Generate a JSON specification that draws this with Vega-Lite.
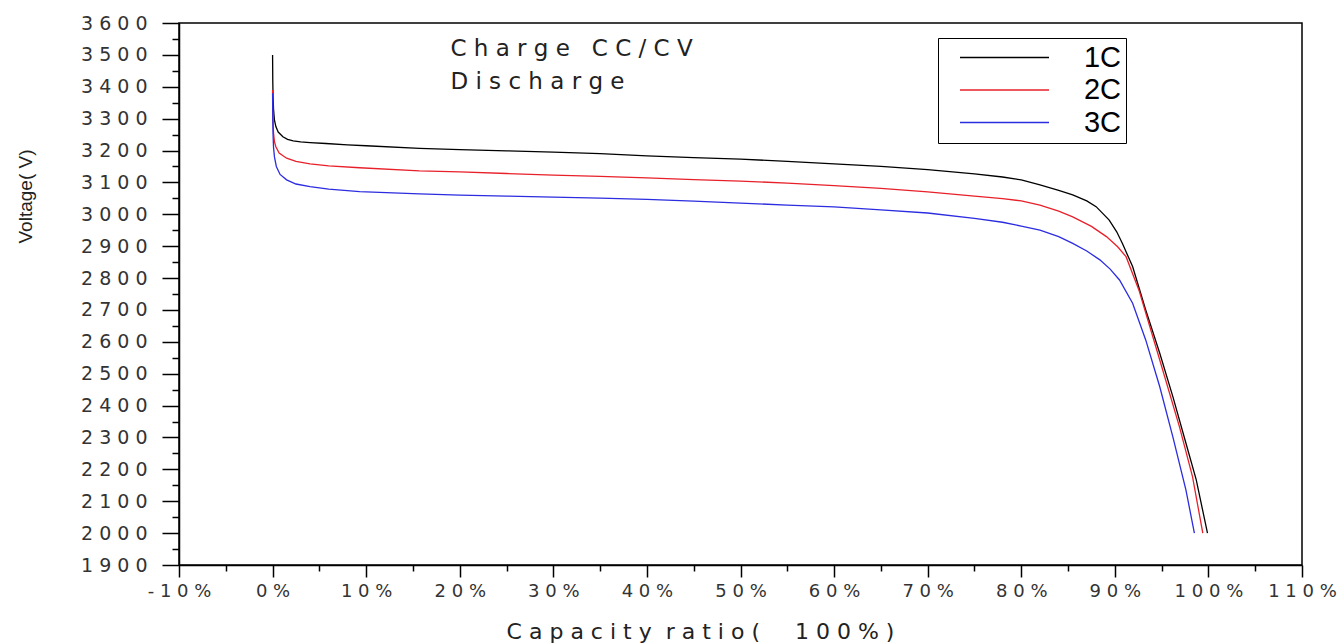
{
  "$schema": "https://vega.github.io/schema/vega-lite/v6.json",
  "width": 1123,
  "height": 542,
  "autosize": {"type": "none"},
  "padding": {"left": 179, "top": 23, "right": 35, "bottom": 79},
  "background": "white",
  "config": {
    "view": {"stroke": "black", "strokeWidth": 1.5},
    "axis": {
      "domainColor": "black", "domainWidth": 1.5,
      "tickColor": "black", "tickWidth": 1.5,
      "grid": false,
      "labelFont": "DejaVu Sans", "labelFontSize": 19, "labelColor": "#333333",
      "titleFont": "Liberation Sans", "titleFontWeight": "normal", "titleColor": "#222222"
    }
  },
  "resolve": {"axis": {"x": "independent", "y": "independent"}},
  "datasets": {
    "curves": [
      {"s": "1C", "x": 0, "v": 3500}, {"s": "1C", "x": 0.02, "v": 3420}, {"s": "1C", "x": 0.05, "v": 3370},
      {"s": "1C", "x": 0.1, "v": 3330}, {"s": "1C", "x": 0.2, "v": 3295}, {"s": "1C", "x": 0.35, "v": 3275},
      {"s": "1C", "x": 0.6, "v": 3258}, {"s": "1C", "x": 1.1, "v": 3243}, {"s": "1C", "x": 1.6, "v": 3235},
      {"s": "1C", "x": 2.2, "v": 3230}, {"s": "1C", "x": 3, "v": 3227}, {"s": "1C", "x": 4, "v": 3225},
      {"s": "1C", "x": 5.7, "v": 3222}, {"s": "1C", "x": 8, "v": 3218}, {"s": "1C", "x": 10, "v": 3215},
      {"s": "1C", "x": 15.7, "v": 3207}, {"s": "1C", "x": 20, "v": 3203}, {"s": "1C", "x": 25, "v": 3199},
      {"s": "1C", "x": 30, "v": 3195}, {"s": "1C", "x": 35, "v": 3190}, {"s": "1C", "x": 40, "v": 3183},
      {"s": "1C", "x": 45, "v": 3178}, {"s": "1C", "x": 50, "v": 3173}, {"s": "1C", "x": 55, "v": 3166},
      {"s": "1C", "x": 60, "v": 3158}, {"s": "1C", "x": 65, "v": 3150}, {"s": "1C", "x": 70, "v": 3140},
      {"s": "1C", "x": 75, "v": 3127}, {"s": "1C", "x": 78, "v": 3117}, {"s": "1C", "x": 80, "v": 3108},
      {"s": "1C", "x": 82, "v": 3092}, {"s": "1C", "x": 84, "v": 3075}, {"s": "1C", "x": 85.5, "v": 3061},
      {"s": "1C", "x": 87, "v": 3042}, {"s": "1C", "x": 88, "v": 3024}, {"s": "1C", "x": 89.4, "v": 2982},
      {"s": "1C", "x": 90.2, "v": 2945}, {"s": "1C", "x": 90.8, "v": 2909}, {"s": "1C", "x": 91.9, "v": 2836},
      {"s": "1C", "x": 93.3, "v": 2700}, {"s": "1C", "x": 94.8, "v": 2564}, {"s": "1C", "x": 96.2, "v": 2428},
      {"s": "1C", "x": 97.6, "v": 2282}, {"s": "1C", "x": 98.7, "v": 2167}, {"s": "1C", "x": 99.9, "v": 2000},

      {"s": "2C", "x": 0, "v": 3390}, {"s": "2C", "x": 0.02, "v": 3330}, {"s": "2C", "x": 0.05, "v": 3290},
      {"s": "2C", "x": 0.1, "v": 3255}, {"s": "2C", "x": 0.2, "v": 3228}, {"s": "2C", "x": 0.35, "v": 3212},
      {"s": "2C", "x": 0.7, "v": 3192}, {"s": "2C", "x": 1.5, "v": 3176}, {"s": "2C", "x": 2.5, "v": 3166},
      {"s": "2C", "x": 4, "v": 3158}, {"s": "2C", "x": 6, "v": 3152}, {"s": "2C", "x": 9.3, "v": 3146},
      {"s": "2C", "x": 15.7, "v": 3136}, {"s": "2C", "x": 20, "v": 3133}, {"s": "2C", "x": 25, "v": 3128},
      {"s": "2C", "x": 30, "v": 3123}, {"s": "2C", "x": 35, "v": 3119}, {"s": "2C", "x": 40, "v": 3114},
      {"s": "2C", "x": 45, "v": 3109}, {"s": "2C", "x": 50, "v": 3104}, {"s": "2C", "x": 55, "v": 3098},
      {"s": "2C", "x": 60, "v": 3090}, {"s": "2C", "x": 65, "v": 3081}, {"s": "2C", "x": 70, "v": 3070},
      {"s": "2C", "x": 75, "v": 3057}, {"s": "2C", "x": 78, "v": 3049}, {"s": "2C", "x": 80, "v": 3042},
      {"s": "2C", "x": 82, "v": 3029}, {"s": "2C", "x": 84, "v": 3010}, {"s": "2C", "x": 85.5, "v": 2992},
      {"s": "2C", "x": 87.5, "v": 2962}, {"s": "2C", "x": 89.1, "v": 2930}, {"s": "2C", "x": 90.3, "v": 2898},
      {"s": "2C", "x": 91.2, "v": 2867}, {"s": "2C", "x": 92.6, "v": 2760}, {"s": "2C", "x": 94.8, "v": 2543},
      {"s": "2C", "x": 96.9, "v": 2334}, {"s": "2C", "x": 98.3, "v": 2177}, {"s": "2C", "x": 99.4, "v": 2000},

      {"s": "3C", "x": 0, "v": 3380}, {"s": "3C", "x": 0.02, "v": 3300}, {"s": "3C", "x": 0.05, "v": 3250},
      {"s": "3C", "x": 0.1, "v": 3210}, {"s": "3C", "x": 0.2, "v": 3180}, {"s": "3C", "x": 0.4, "v": 3150},
      {"s": "3C", "x": 0.8, "v": 3125}, {"s": "3C", "x": 1.5, "v": 3108}, {"s": "3C", "x": 2.5, "v": 3095},
      {"s": "3C", "x": 4, "v": 3087}, {"s": "3C", "x": 6, "v": 3079}, {"s": "3C", "x": 9.3, "v": 3071},
      {"s": "3C", "x": 15.7, "v": 3064}, {"s": "3C", "x": 20, "v": 3060}, {"s": "3C", "x": 25, "v": 3057},
      {"s": "3C", "x": 30, "v": 3054}, {"s": "3C", "x": 35, "v": 3051}, {"s": "3C", "x": 40, "v": 3047},
      {"s": "3C", "x": 45, "v": 3041}, {"s": "3C", "x": 50, "v": 3035}, {"s": "3C", "x": 55, "v": 3029},
      {"s": "3C", "x": 60, "v": 3023}, {"s": "3C", "x": 65, "v": 3014}, {"s": "3C", "x": 70, "v": 3004},
      {"s": "3C", "x": 75, "v": 2987}, {"s": "3C", "x": 78, "v": 2975}, {"s": "3C", "x": 80, "v": 2963},
      {"s": "3C", "x": 82, "v": 2950}, {"s": "3C", "x": 84, "v": 2930}, {"s": "3C", "x": 85.5, "v": 2909},
      {"s": "3C", "x": 87, "v": 2885}, {"s": "3C", "x": 88.4, "v": 2857}, {"s": "3C", "x": 89.5, "v": 2828},
      {"s": "3C", "x": 90.5, "v": 2794}, {"s": "3C", "x": 91.9, "v": 2721}, {"s": "3C", "x": 93.3, "v": 2606},
      {"s": "3C", "x": 94.8, "v": 2459}, {"s": "3C", "x": 96.2, "v": 2302}, {"s": "3C", "x": 97.6, "v": 2135},
      {"s": "3C", "x": 98.5, "v": 2000}
    ],
    "notes": [
      {"x": 19, "v": 3497, "text": "C h a r g e\u00a0\u00a0\u00a0C C / C V"},
      {"x": 19, "v": 3393, "text": "D i s c h a r g e"}
    ]
  },
  "layer": [
    {
      "data": {"name": "curves"},
      "mark": {"type": "line", "strokeWidth": 1.3},
      "encoding": {
        "x": {
          "field": "x", "type": "quantitative",
          "scale": {"domain": [-10, 110], "nice": false, "zero": false},
          "axis": {
            "orient": "bottom",
            "values": [-10, 0, 10, 20, 30, 40, 50, 60, 70, 80, 90, 100, 110],
            "labelExpr": "join(split(datum.value + '%', ''), ' ')",
            "labelFontSize": 18,
            "tickSize": 12,
            "labelPadding": 5,
            "labelDx": -8,
            "labelFlush": false,
            "labelOverlap": false,
            "title": "C a p a c i t y\u00a0\u00a0r a t i o (\u00a0\u00a0\u00a0\u00a0\u00a01 0 0 % )",
            "titleFont": "DejaVu Sans",
            "titleFontSize": 22,
            "titleX": 521,
            "titleY": 73,
            "titleBaseline": "alphabetic",
            "titleAnchor": "middle"
          }
        },
        "y": {
          "field": "v", "type": "quantitative",
          "scale": {"domain": [1900, 3600], "nice": false, "zero": false},
          "axis": {
            "orient": "left",
            "values": [1900, 2000, 2100, 2200, 2300, 2400, 2500, 2600, 2700, 2800, 2900, 3000, 3100, 3200, 3300, 3400, 3500, 3600],
            "labelExpr": "join(split(datum.value + '', ''), ' ')",
            "tickSize": 17,
            "labelPadding": 15,
            "labelFlush": false,
            "labelOverlap": false,
            "labelBaseline": "middle",
            "title": "Voltage( V)",
            "titleFontSize": 19,
            "titleX": -154,
            "titleY": 173,
            "titleAngle": -90,
            "titleAlign": "center",
            "titleBaseline": "middle",
            "titleAnchor": "middle"
          }
        },
        "color": {
          "field": "s", "type": "nominal",
          "scale": {"domain": ["1C", "2C", "3C"], "range": ["#000000", "#e8202a", "#2c2ce0"]},
          "legend": {
            "orient": "none", "legendX": 759, "legendY": 15,
            "title": null,
            "symbolType": "M-4,0H4", "symbolSize": 495, "symbolStrokeWidth": 1.5,
            "labelFontSize": 29, "labelFont": "Liberation Sans Narrow, Liberation Sans",
            "labelColor": "black", "labelAlign": "right", "labelOffset": 102,
            "strokeColor": "black", "fillColor": "white",
            "padding": 5, "symbolOffset": 47, "rowPadding": 2.5
          }
        }
      }
    },
    {
      "data": {"name": "notes"},
      "mark": {"type": "text", "align": "left", "baseline": "alphabetic", "font": "DejaVu Sans", "fontSize": 23, "color": "#222222"},
      "encoding": {
        "x": {
          "field": "x", "type": "quantitative",
          "axis": {
            "orient": "bottom",
            "values": [-5, 5, 15, 25, 35, 45, 55, 65, 75, 85, 95, 105],
            "labels": false, "domain": false, "tickSize": 6, "title": null
          }
        },
        "y": {
          "field": "v", "type": "quantitative",
          "axis": {
            "orient": "left",
            "values": [1950, 2050, 2150, 2250, 2350, 2450, 2550, 2650, 2750, 2850, 2950, 3050, 3150, 3250, 3350, 3450, 3550],
            "labels": false, "domain": false, "tickSize": 7, "title": null
          }
        },
        "text": {"field": "text"}
      }
    }
  ]
}
